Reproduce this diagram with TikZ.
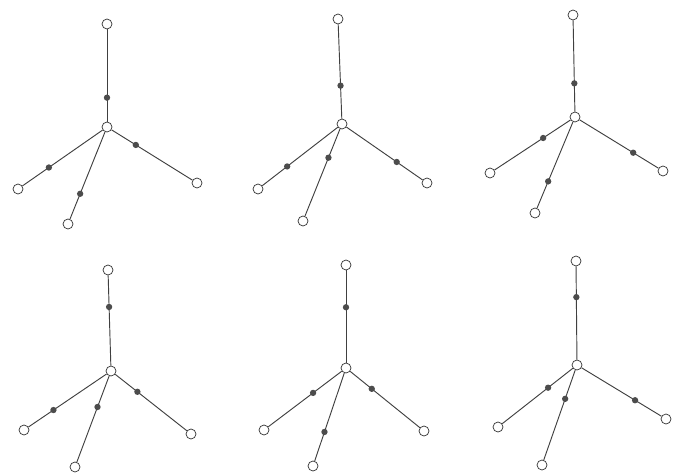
\documentclass[tikz,border=0pt]{standalone}
\begin{document}
\begin{tikzpicture}[x=0.03cm,y=-0.03cm,
  vert/.style={circle,draw=black!80,line width=0.6pt,fill=white,inner sep=0pt,minimum size=0.3cm},
  punto/.style={circle,fill=black!70,inner sep=0pt,minimum size=0.19cm},
  arista/.style={black!75,line width=0.8pt}]
  \useasboundingbox (0,0) rectangle (674,475);
  % fila de arriba
  \node[vert] (c1) at (107,127) {};
  \node[vert] (t1) at (107,24) {};
  \node[vert] (l1) at (18,189) {};
  \node[vert] (b1) at (68,224) {};
  \node[vert] (r1) at (197,183) {};
  \draw[arista] (c1) -- node[punto,pos=0.26] (pt1) {} (t1);
  \draw[arista] (c1) -- node[punto,pos=0.67] (pl1) {} (l1);
  \draw[arista] (c1) -- node[punto,pos=0.71] (pb1) {} (b1);
  \draw[arista] (c1) -- node[punto,pos=0.30] (pr1) {} (r1);

  \node[vert] (c2) at (342,124) {};
  \node[vert] (t2) at (338,19) {};
  \node[vert] (l2) at (258,189) {};
  \node[vert] (b2) at (303,221) {};
  \node[vert] (r2) at (427,183) {};
  \draw[arista] (c2) -- node[punto,pos=0.35] (pt2) {} (t2);
  \draw[arista] (c2) -- node[punto,pos=0.67] (pl2) {} (l2);
  \draw[arista] (c2) -- node[punto,pos=0.33] (pb2) {} (b2);
  \draw[arista] (c2) -- node[punto,pos=0.66] (pr2) {} (r2);

  \node[vert] (c3) at (575,117) {};
  \node[vert] (t3) at (573,15) {};
  \node[vert] (l3) at (490,173) {};
  \node[vert] (b3) at (535,213) {};
  \node[vert] (r3) at (663,171) {};
  \draw[arista] (c3) -- node[punto,pos=0.31] (pt3) {} (t3);
  \draw[arista] (c3) -- node[punto,pos=0.36] (pl3) {} (l3);
  \draw[arista] (c3) -- node[punto,pos=0.69] (pb3) {} (b3);
  \draw[arista] (c3) -- node[punto,pos=0.68] (pr3) {} (r3);

  % fila de abajo
  \node[vert] (c4) at (111,371) {};
  \node[vert] (t4) at (108,270) {};
  \node[vert] (l4) at (24,430) {};
  \node[vert] (b4) at (75,467) {};
  \node[vert] (r4) at (191,434) {};
  \draw[arista] (c4) -- node[punto,pos=0.65] (pt4) {} (t4);
  \draw[arista] (c4) -- node[punto,pos=0.68] (pl4) {} (l4);
  \draw[arista] (c4) -- node[punto,pos=0.36] (pb4) {} (b4);
  \draw[arista] (c4) -- node[punto,pos=0.31] (pr4) {} (r4);

  \node[vert] (c5) at (346,368) {};
  \node[vert] (t5) at (346,265) {};
  \node[vert] (l5) at (264,430) {};
  \node[vert] (b5) at (313,466) {};
  \node[vert] (r5) at (424,431) {};
  \draw[arista] (c5) -- node[punto,pos=0.60] (pt5) {} (t5);
  \draw[arista] (c5) -- node[punto,pos=0.39] (pl5) {} (l5);
  \draw[arista] (c5) -- node[punto,pos=0.67] (pb5) {} (b5);
  \draw[arista] (c5) -- node[punto,pos=0.31] (pr5) {} (r5);

  \node[vert] (c6) at (577,365) {};
  \node[vert] (t6) at (576,261) {};
  \node[vert] (l6) at (498,427) {};
  \node[vert] (b6) at (542,465) {};
  \node[vert] (r6) at (666,419) {};
  \draw[arista] (c6) -- node[punto,pos=0.67] (pt6) {} (t6);
  \draw[arista] (c6) -- node[punto,pos=0.35] (pl6) {} (l6);
  \draw[arista] (c6) -- node[punto,pos=0.32] (pb6) {} (b6);
  \draw[arista] (c6) -- node[punto,pos=0.67] (pr6) {} (r6);
\end{tikzpicture}
\end{document}
